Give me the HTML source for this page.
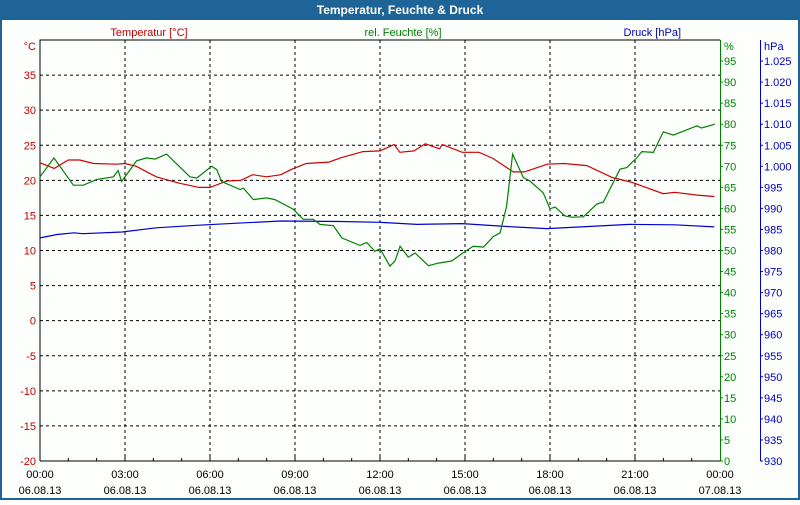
<!DOCTYPE html>
<html><head><meta charset="utf-8"><style>
body{margin:0;background:#fff;}
svg text{font-family:"Liberation Sans",sans-serif;font-size:11px;}
</style></head><body>
<svg width="800" height="500" xmlns="http://www.w3.org/2000/svg">
<rect x="0" y="0" width="800" height="500" fill="#1e6496"/>
<rect x="2" y="20" width="796" height="478" fill="#fdfffd"/>
<text x="400" y="14" text-anchor="middle" fill="#fff" font-weight="bold" style="font-size:12px">Temperatur, Feuchte &amp; Druck</text>
<text x="149" y="36" text-anchor="middle" fill="#c00000">Temperatur [°C]</text>
<text x="403" y="36" text-anchor="middle" fill="#008000">rel. Feuchte [%]</text>
<text x="681" y="36" text-anchor="end" fill="#0000c0">Druck [hPa]</text>
<g id="grid"></g><g id="axes"></g><g id="series"></g>
</svg>
<script>
const hourTicks=[0,3,6,9,12,15,18,21,24];
const timeLabels=["00:00","03:00","06:00","09:00","12:00","15:00","18:00","21:00","00:00"];
const dateLabels=["06.08.13","06.08.13","06.08.13","06.08.13","06.08.13","06.08.13","06.08.13","06.08.13","07.08.13"];
const tempTicks=[-20,-15,-10,-5,0,5,10,15,20,25,30,35];
const humTicks=[0,5,10,15,20,25,30,35,40,45,50,55,60,65,70,75,80,85,90,95];
const presTicks=[930,935,940,945,950,955,960,965,970,975,980,985,990,995,1000,1005,1010,1015,1020,1025];
const tempHours=[0,0.5,1,1.4,1.9,2.7,3,3.4,4.1,4.9,5.6,6,6.6,7.1,7.5,8,8.5,8.9,9.4,10.2,10.6,11.4,12,12.5,12.7,13.2,13.6,14.1,14.2,14.9,15.5,16,16.7,17.1,17.9,18.5,19.3,20.2,20.9,21.3,22,22.4,23.2,23.8];
const tempValues=[22.5,21.7,22.9,22.9,22.4,22.3,22.4,22,20.5,19.6,19,19,19.9,20,20.8,20.5,20.8,21.6,22.4,22.6,23.2,24.1,24.2,25.1,24,24.2,25.2,24.5,25.1,24,24,23.1,21.2,21.2,22.3,22.4,22.1,20.4,19.7,19.1,18.1,18.3,17.9,17.7];
const humHours=[0,0.24,0.49,1.18,1.53,2,2.59,2.76,2.88,3.41,3.76,4.06,4.47,4.82,5.29,5.53,6.06,6.24,6.41,7.06,7.18,7.53,8,8.29,8.94,9.29,9.65,9.88,10.35,10.65,11.29,11.53,11.82,12,12.35,12.53,12.71,13,13.24,13.71,14.06,14.53,14.88,15.29,15.65,16,16.24,16.47,16.68,17.06,17.29,17.76,18,18.18,18.53,18.76,19.18,19.65,19.88,20.47,20.71,21.06,21.24,21.65,22,22.35,22.65,23.18,23.35,23.82];
const humValues=[67.5,69.7,72,65.5,65.5,66.9,67.5,69,66.4,71.3,72,71.7,72.9,70.6,67.5,67.2,70,69.2,66.4,64.5,64.8,62.1,62.5,62.1,59.8,57.4,57.4,56.2,55.9,53,51.2,51.9,49.8,50.4,46.3,47.5,51,48.4,49.4,46.4,47,47.5,49.2,51,50.8,53.3,54.2,60.5,72.9,67.3,66.5,63.7,59.9,60.3,58.2,57.9,58,61,61.5,69.3,69.7,72,73.5,73.3,78.2,77.4,78.2,79.6,79.1,80];
const presHours=[0,0.6,1.2,1.5,2.9,4.1,5.6,7.3,8.5,10.6,12,13.3,14.9,16.7,17.9,19.1,20.8,22.4,23.8];
const presValues=[983,983.8,984.2,984,984.4,985.4,986,986.6,987,986.9,986.7,986.2,986.4,985.6,985.2,985.6,986.2,986.1,985.6];

const NS="http://www.w3.org/2000/svg";
const X0=40,X1=720,Y0=40,Y1=461;
const xs=h=>X0+h*(X1-X0)/24;
const yT=t=>Y1-(t+20)*(Y1-Y0)/60;
const yH=p=>Y1-p*(Y1-Y0)/100;
const yP=p=>Y1-(p-930)*(Y1-Y0)/100;
function mk(parent,tag,attrs,txt){const e=document.createElementNS(NS,tag);for(const k in attrs)e.setAttribute(k,attrs[k]);if(txt!==undefined)e.textContent=txt;document.getElementById(parent).appendChild(e);return e;}
// grid
tempTicks.forEach(t=>{if(t===-20)return;const l=mk('grid','line',{x1:X0,x2:X1,y1:yT(t),y2:yT(t),stroke:'#000','stroke-dasharray':'3,3'});

});
hourTicks.forEach(h=>{if(h===0||h===24)return;const l=mk('grid','line',{x1:xs(h),x2:xs(h),y1:Y0,y2:Y1,stroke:'#000','stroke-dasharray':'3,3'});

});
// axes
let a;
a=mk('axes','path',{d:`M${X0} ${Y1}V${Y0}H${X1}`,stroke:'#000',fill:'none'});


a=mk('axes','line',{x1:X0,x2:X1,y1:Y1,y2:Y1,stroke:'#000'});


for(let h=1;h<24;h++){const t=mk('axes','line',{x1:xs(h),x2:xs(h),y1:Y1-(h%3?3:5),y2:Y1,stroke:'#000'});

}
a=mk('axes','line',{x1:X1+0.5,x2:X1+0.5,y1:Y0,y2:Y1,stroke:'#008000'});


a=mk('axes','line',{x1:760.5,x2:760.5,y1:Y0,y2:Y1,stroke:'#0000c0'});


hourTicks.forEach((h,i)=>{
 const t1=mk('axes','text',{x:xs(h),y:478,'text-anchor':'middle',fill:'#000'},timeLabels[i]);
 
 
 const t2=mk('axes','text',{x:xs(h),y:494,'text-anchor':'middle',fill:'#000'},dateLabels[i]);
 
 
});
tempTicks.forEach(t=>{const e=mk('axes','text',{x:36,y:yT(t)+4,'text-anchor':'end',fill:'#c00000'},String(t));

});
a=mk('axes','text',{x:36,y:50,'text-anchor':'end',fill:'#c00000'},'°C');


humTicks.forEach(p=>{const e=mk('axes','text',{x:724,y:yH(p)+4,fill:'#008000'},String(p));


const k=mk('axes','line',{x1:X1,x2:X1+3,y1:yH(p),y2:yH(p),stroke:'#008000'});

});
a=mk('axes','text',{x:724,y:50,fill:'#008000'},'%');


presTicks.forEach(p=>{const s=p>=1000?'1.'+String(p).slice(1):String(p);
const e=mk('axes','text',{x:764,y:yP(p)+4,fill:'#0000c0'},s);


const k=mk('axes','line',{x1:760,x2:763,y1:yP(p),y2:yP(p),stroke:'#0000c0'});

});
a=mk('axes','text',{x:764,y:50,fill:'#0000c0'},'hPa');


// series
function line(hours,vals,fy,color){return mk('series','polyline',{points:hours.map((h,i)=>xs(h).toFixed(1)+','+fy(vals[i]).toFixed(1)).join(' '),fill:'none',stroke:color,'stroke-width':1.2});}
let s=line(presHours,presValues,yP,'#0000d0');


s=line(tempHours,tempValues,yT,'#d00000');


s=line(humHours,humValues,yH,'#008000');


</script>
</body></html>
